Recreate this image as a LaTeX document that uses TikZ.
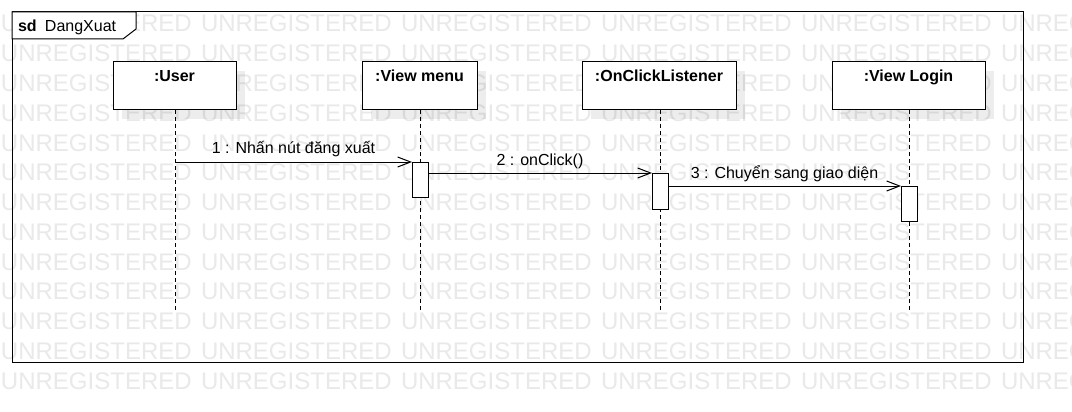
\documentclass[tikz,border=0pt]{standalone}
\usepackage{fontspec}
\setmainfont{Liberation Sans}
\usetikzlibrary{arrows.meta,shadows}
\definecolor{wmgray}{RGB}{233,233,233}
\begin{document}
\begin{tikzpicture}[x=1pt,y=-1pt,
  every node/.style={inner sep=0pt, outer sep=0pt},
  txt/.style={font=\fontsize{16}{19}\selectfont},
  btxt/.style={font=\fontsize{16}{19}\selectfont\bfseries},
  wmtext/.style={font=\fontsize{24}{24}\selectfont, text=wmgray, anchor=base west},
  lbox/.style={draw, fill=white, line width=1pt, minimum height=48pt, minimum width=#1,
    drop shadow={shadow xshift=9pt, shadow yshift=-9pt, fill=black, opacity=0.07}},
  actbox/.style={draw, fill=white, line width=1pt, minimum width=16pt, minimum height=#1},
  lifeline/.style={line width=1pt, dash pattern=on 4pt off 3pt},
  msg/.style={line width=1pt, -{Straight Barb[length=13pt,width=10pt,line width=1pt]}},
  frame/.style={line width=1pt}
]
\useasboundingbox (0,0) rectangle (1072,412);
\fill[white] (0,0) rectangle (1072,412);
% watermark
\begin{scope}
  \clip (0,0) rectangle (1072,412);
  \foreach \r in {0,...,12}{
    \foreach \c in {0,...,5}{
      \node[wmtext] (wm-\r-\c) at ({1+200*\c},{32+29.75*\r}) {UNREGISTERED};
    }
  }
\end{scope}
% frame
\node[draw, frame, anchor=north west, minimum width=1011pt, minimum height=350pt] (fr) at (12,12) {};
\draw[frame, fill=white] (12,12) -- (136,12) -- (136,29) -- (123,39) -- (12,39) -- cycle;
\node[btxt, anchor=base west] (sd) at (18,32) {sd};
\node[txt, anchor=base west] (sdname) at (45,32) {DangXuat};
% lifeline heads
\node[lbox=123pt] (u) at (174.5,86) {};
\node[lbox=115pt] (vm) at (419.5,86) {};
\node[lbox=154pt] (oc) at (659,86) {};
\node[lbox=153pt] (vl) at (908.5,86) {};
\node[btxt, anchor=base] (ut) at (174.5,82) {:User};
\node[btxt, anchor=base] (vmt) at (419.5,82) {:View menu};
\node[btxt, anchor=base] (oct) at (659,82) {:OnClickListener};
\node[btxt, anchor=base] (vlt) at (908.5,82) {:View Login};
% lifeline ends
\coordinate (ue) at (175,311);
\coordinate (vme) at (420,311);
\coordinate (oce) at (660,311);
\coordinate (vle) at (909,311);
\draw[lifeline] (u.south -| ue) -- (ue);
\draw[lifeline] (vm.south -| vme) -- (vme);
\draw[lifeline] (oc.south -| oce) -- (oce);
\draw[lifeline] (vl.south -| vle) -- (vle);
% activations
\node[actbox=35pt] (a1) at (420,179.5) {};
\node[actbox=36pt] (a2) at (660,191) {};
\node[actbox=35pt] (a3) at (909,203.5) {};
% messages
\draw[msg] (ue |- a1.north west) -- (a1.north west)
  node[txt, midway, anchor=base, yshift=8.5pt] (m1) {1 : Nhấn nút đăng xuất};
\draw[msg] (a1.east |- a2.north west) -- (a2.north west)
  node[txt, midway, anchor=base, yshift=8pt] (m2) {2 : onClick()};
\draw[msg] (a2.east |- a3.north west) -- (a3.north west)
  node[txt, midway, anchor=base, yshift=8pt] (m3) {3 : Chuyển sang giao diện};
\end{tikzpicture}
\end{document}
